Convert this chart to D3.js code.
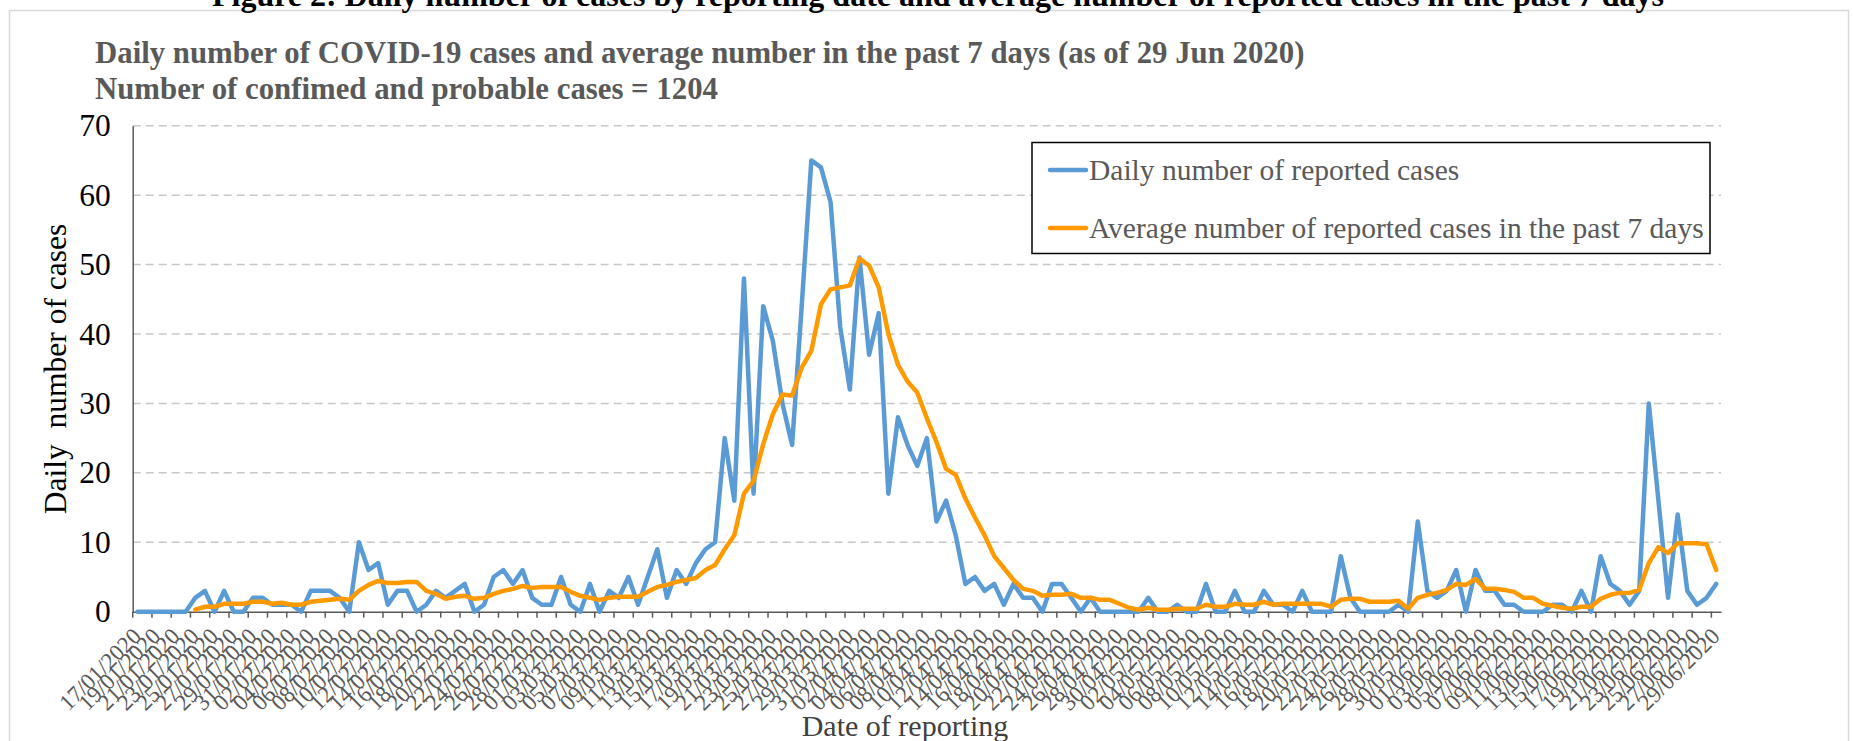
<!DOCTYPE html>
<html><head><meta charset="utf-8">
<script src="https://cdn.jsdelivr.net/npm/d3@7"></script>
<style>
body{margin:0;background:#fff;}
svg{display:block;font-family:"Liberation Serif","Times New Roman",serif;}
text{white-space:pre;}
</style>
</head><body>
<svg id="chart" width="1854" height="741"></svg>
<script>
// ---- data ----
const firstDay = "2020-01-17";
const lastDay = "2020-06-29";
const dailyCases = [
0,0,0,0,0,0,2,3,0,3,
0,0,2,2,1,1,1,0,3,3,
3,2,0,10,6,7,1,3,3,0,
1,3,2,3,4,0,1,5,6,4,
6,2,1,1,5,1,0,4,0,3,
2,5,1,5,9,2,6,4,7,9,
10,25,16,48,17,44,39,30,24,44,
65,64,59,41,32,51,37,43,17,28,
24,21,25,13,16,11,4,5,3,4,
1,4,2,2,0,4,4,2,0,2,
0,0,0,0,0,2,0,0,1,0,
0,4,0,0,3,0,0,3,1,1,
0,3,0,0,0,8,2,0,0,0,
0,1,0,13,3,2,3,6,0,6,
3,3,1,1,0,0,0,1,1,0,
3,0,8,4,3,1,3,30,16,2,
14,3,1,2,4
];
const avg7Days = [
null,null,null,null,null,null,0.29,0.71,0.71,1.14,
1.14,1.14,1.43,1.43,1.14,1.29,1.00,1.00,1.43,1.57,
1.71,1.86,1.71,3.00,3.86,4.43,4.14,4.14,4.29,4.29,
3.00,2.57,1.86,2.14,2.29,1.86,2.00,2.57,3.00,3.29,
3.71,3.43,3.57,3.57,3.57,2.86,2.29,2.00,1.71,2.00,
2.14,2.14,2.14,2.86,3.57,3.86,4.29,4.57,4.86,6.00,
6.71,9.00,11.00,17.00,18.86,24.14,28.43,31.29,31.14,35.14,
37.57,44.29,46.43,46.71,47.00,50.86,49.86,46.71,40.00,35.57,
33.14,31.57,27.86,24.43,20.57,19.71,16.29,13.57,11.00,8.00,
6.29,4.57,3.29,3.00,2.29,2.43,2.43,2.57,2.00,2.00,
1.71,1.71,1.14,0.57,0.29,0.57,0.29,0.29,0.43,0.43,
0.43,1.00,0.71,0.71,1.14,1.00,1.00,1.43,1.00,1.14,
1.14,1.14,1.14,1.14,0.71,1.71,1.86,1.86,1.43,1.43,
1.43,1.57,0.43,2.00,2.43,2.71,3.14,4.00,3.86,4.71,
3.29,3.29,3.14,2.86,2.00,2.00,1.14,0.86,0.57,0.43,
0.71,0.71,1.86,2.43,2.71,2.71,3.14,7.00,9.29,8.43,
9.86,9.86,9.86,9.71,6.00
];
const yTickValues = [0,10,20,30,40,50,60,70];
const seriesNames = ["Daily number of reported cases","Average number of reported cases in the past 7 days"];
const figureTitle = "Figure 2: Daily number of cases by reporting date and average number of reported cases in the past 7 days";
const chartTitle1 = "Daily number of COVID-19 cases and average number in the past 7 days (as of 29 Jun 2020)";
const chartTitle2 = "Number of confimed and probable cases = 1204";
const yAxisTitle = "Daily  number of cases";
const xAxisTitle = "Date of reporting";

// ---- categories ----
const parse = d3.timeParse("%Y-%m-%d");
const fmt = d3.timeFormat("%d/%m/%Y");
const dates = d3.timeDay.range(parse(firstDay), d3.timeDay.offset(parse(lastDay), 1)).map(fmt);

// ---- layout ----
const svg = d3.select("#chart");
const L = 132.7, R = 1721, B = 611.7, T = 125.7;
const x = d3.scaleBand().domain(dates).range([L, R]).padding(0);
const y = d3.scaleLinear().domain([0, 70]).range([B, T]);
const cx = d => x(d) + x.bandwidth() / 2;
const textGray = "#595959";
const blue = "#5B9BD5", orange = "#FF9900";

// outer frame
svg.append("rect").attr("x", 9.5).attr("y", 10.5).attr("width", 1839).attr("height", 760)
  .attr("fill", "none").attr("stroke", "#D9D9D9").attr("stroke-width", 1.5);

// figure caption (cut at top, as in the source)
svg.append("text").attr("x", 938).attr("y", 6).attr("text-anchor", "middle")
  .attr("font-weight", "bold").attr("font-size", 32).attr("fill", "#000").text(figureTitle);

// chart titles
svg.append("text").attr("x", 95).attr("y", 63).attr("font-weight", "bold").attr("font-size", 30.8)
  .attr("fill", textGray).text(chartTitle1);
svg.append("text").attr("x", 95).attr("y", 99).attr("font-weight", "bold").attr("font-size", 30.8)
  .attr("fill", textGray).text(chartTitle2);

// gridlines
svg.append("g").selectAll("line").data(yTickValues.filter(v => v > 0)).join("line")
  .attr("x1", L).attr("x2", R).attr("y1", d => y(d)).attr("y2", d => y(d))
  .attr("stroke", "#C8C8C8").attr("stroke-width", 1.5).attr("stroke-dasharray", "8,5");

// y axis
const yAxis = d3.axisLeft(y).tickValues(yTickValues).tickSize(0).tickPadding(22);
const gy = svg.append("g").attr("transform", `translate(${L},0)`).call(yAxis);
gy.select(".domain").attr("stroke", "#595959").attr("stroke-width", 1.5);
gy.selectAll("text").attr("font-size", 31.5).attr("fill", "#000").attr("font-family", "Liberation Serif");

// x axis
const xAxis = d3.axisBottom(x).tickValues([]).tickSize(0);
const gx = svg.append("g").attr("transform", `translate(0,${B})`).call(xAxis);
gx.select(".domain").attr("stroke", "#595959").attr("stroke-width", 1.5);
const labelDates = dates.filter((d, i) => i % 2 === 0);
gx.selectAll("line.tk").data(labelDates.map(d => x(d))).join("line").attr("class", "tk")
  .attr("x1", d => d).attr("x2", d => d).attr("y1", 0).attr("y2", 6)
  .attr("stroke", "#595959").attr("stroke-width", 1.5);
svg.append("g").selectAll("text").data(labelDates).join("text")
  .attr("transform", d => `translate(${cx(d) + 5},${B + 26}) rotate(-45)`)
  .attr("text-anchor", "end").attr("font-size", 23).attr("fill", textGray).text(d => d);

// axis titles
svg.append("text").attr("transform", `translate(55,369) rotate(-90)`).attr("dy", "0.35em")
  .attr("text-anchor", "middle").attr("font-size", 31.5).attr("fill", "#000").text(yAxisTitle);
svg.append("text").attr("x", 905).attr("y", 736).attr("text-anchor", "middle")
  .attr("font-size", 30).attr("fill", "#404040").text(xAxisTitle);

// lines
const line = d3.line().defined(d => d.v !== null).x(d => cx(d.date)).y(d => y(d.v));
const blueData = dates.map((d, i) => ({date: d, v: dailyCases[i]}));
const orangeData = dates.map((d, i) => ({date: d, v: avg7Days[i]}));
svg.append("path").datum(blueData).attr("d", line).attr("fill", "none").attr("stroke", blue)
  .attr("stroke-width", 4.5).attr("stroke-linejoin", "round").attr("stroke-linecap", "round");
svg.append("path").datum(orangeData).attr("d", line).attr("fill", "none").attr("stroke", orange)
  .attr("stroke-width", 4.5).attr("stroke-linejoin", "round").attr("stroke-linecap", "round");

// legend
const lg = svg.append("g");
lg.append("rect").attr("x", 1032).attr("y", 142.5).attr("width", 678).attr("height", 111)
  .attr("fill", "#fff").attr("stroke", "#000").attr("stroke-width", 1.5);
const legendRows = [{name: seriesNames[0], color: blue, y: 170}, {name: seriesNames[1], color: orange, y: 228}];
legendRows.forEach(r => {
  lg.append("line").attr("x1", 1050).attr("x2", 1086).attr("y1", r.y).attr("y2", r.y)
    .attr("stroke", r.color).attr("stroke-width", 4.5).attr("stroke-linecap", "round");
  lg.append("text").attr("x", 1089).attr("y", r.y).attr("dy", "0.33em").attr("font-size", 29.5)
    .attr("fill", textGray).text(r.name);
});
</script>
</body></html>
